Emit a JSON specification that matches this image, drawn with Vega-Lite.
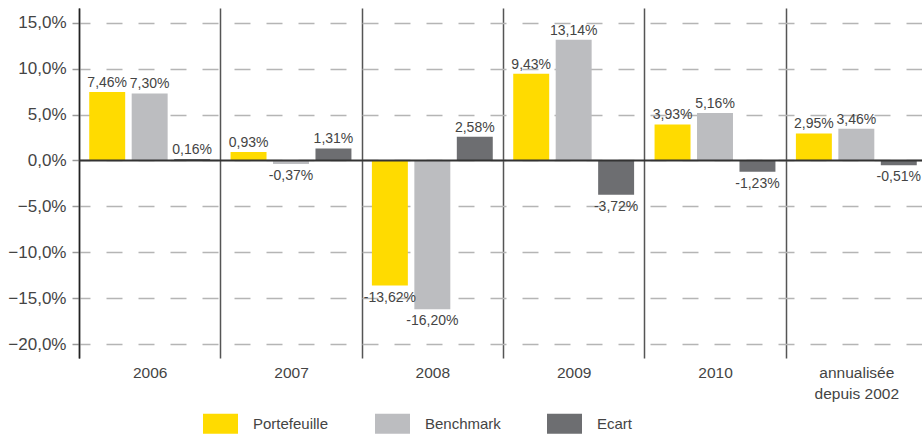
{
  "$schema": "https://vega.github.io/schema/vega-lite/v6.json",
  "width": 843,
  "height": 350,
  "autosize": {"type": "none"},
  "padding": {"left": 79, "top": 8, "right": 0, "bottom": 77},
  "background": "white",
  "config": {"view": {"stroke": null}, "font": "Liberation Sans"},
  "data": {
    "values": [
      {"period": "2006", "serie": "Portefeuille", "value": 7.46, "label": "7,46%"},
      {"period": "2006", "serie": "Benchmark", "value": 7.30, "label": "7,30%"},
      {"period": "2006", "serie": "Ecart", "value": 0.16, "label": "0,16%"},
      {"period": "2007", "serie": "Portefeuille", "value": 0.93, "label": "0,93%"},
      {"period": "2007", "serie": "Benchmark", "value": -0.37, "label": "-0,37%"},
      {"period": "2007", "serie": "Ecart", "value": 1.31, "label": "1,31%"},
      {"period": "2008", "serie": "Portefeuille", "value": -13.62, "label": "-13,62%"},
      {"period": "2008", "serie": "Benchmark", "value": -16.20, "label": "-16,20%"},
      {"period": "2008", "serie": "Ecart", "value": 2.58, "label": "2,58%"},
      {"period": "2009", "serie": "Portefeuille", "value": 9.43, "label": "9,43%"},
      {"period": "2009", "serie": "Benchmark", "value": 13.14, "label": "13,14%"},
      {"period": "2009", "serie": "Ecart", "value": -3.72, "label": "-3,72%"},
      {"period": "2010", "serie": "Portefeuille", "value": 3.93, "label": "3,93%"},
      {"period": "2010", "serie": "Benchmark", "value": 5.16, "label": "5,16%"},
      {"period": "2010", "serie": "Ecart", "value": -1.23, "label": "-1,23%"},
      {"period": "annualisée depuis 2002", "serie": "Portefeuille", "value": 2.95, "label": "2,95%"},
      {"period": "annualisée depuis 2002", "serie": "Benchmark", "value": 3.46, "label": "3,46%"},
      {"period": "annualisée depuis 2002", "serie": "Ecart", "value": -0.51, "label": "-0,51%"}
    ]
  },
  "encoding": {
    "x": {
      "field": "period",
      "type": "nominal",
      "sort": ["2006", "2007", "2008", "2009", "2010", "annualisée depuis 2002"],
      "scale": {"paddingInner": 0, "paddingOuter": 0, "range": [0, 848]},
      "axis": {
        "title": null,
        "orient": "bottom",
        "labelAngle": 0,
        "domain": false,
        "ticks": false,
        "tickBand": "extent",
        "grid": true,
        "gridColor": "#555555",
        "gridWidth": 1.5,
        "labelFont": "Liberation Sans",
        "labelFontSize": 15.5,
        "labelColor": "#444444",
        "labelPadding": 7,
        "labelLineHeight": 21,
        "labelExpr": "datum.value == 'annualisée depuis 2002' ? ['annualisée', 'depuis 2002'] : datum.label"
      }
    },
    "xOffset": {
      "field": "serie",
      "type": "nominal",
      "sort": ["Portefeuille", "Benchmark", "Ecart"],
      "scale": {"paddingInner": 0.153, "paddingOuter": 0.241}
    },
    "y": {
      "field": "value",
      "type": "quantitative",
      "scale": {"domain": [-21.5, 16.6], "nice": false, "zero": false},
      "axis": {
        "title": null,
        "values": [-20, -15, -10, -5, 0, 5, 10, 15],
        "labelExpr": "replace(format(datum.value, '.1f'), '.', ',') + '%'",
        "grid": true,
        "gridDash": [16, 16],
        "gridDashOffset": 5,
        "gridColor": "#b5b5b5",
        "gridWidth": 1.5,
        "tickColor": "#999999",
        "tickSize": 7,
        "tickWidth": 1.5,
        "domainColor": "#222222",
        "domainWidth": 1.5,
        "labelFont": "Liberation Sans",
        "labelFontSize": 17,
        "labelColor": "#444444",
        "labelPadding": 6
      }
    }
  },
  "layer": [
    {
      "mark": {"type": "bar"},
      "encoding": {
        "color": {
          "field": "serie",
          "type": "nominal",
          "sort": ["Portefeuille", "Benchmark", "Ecart"],
          "scale": {"domain": ["Portefeuille", "Benchmark", "Ecart"], "range": ["#FFDB00", "#BCBDC0", "#6D6E71"]},
          "legend": {
            "title": null,
            "orient": "none",
            "legendX": 124,
            "legendY": 398,
            "direction": "horizontal",
            "columns": 3,
            "gridAlign": "all",
            "columnPadding": 46,
            "symbolType": "M-1,-0.57H1V0.57H-1Z",
            "symbolSize": 1225,
            "symbolStrokeWidth": 0,
            "symbolOpacity": 1,
            "labelOffset": 15,
            "labelFont": "Liberation Sans",
            "labelFontSize": 15,
            "labelColor": "#444444"
          }
        }
      }
    },
    {
      "transform": [{"filter": "datum.value >= 0"}],
      "mark": {"type": "text", "baseline": "alphabetic", "dy": -5, "fontSize": 14, "color": "#444444", "font": "Liberation Sans"},
      "encoding": {"text": {"field": "label"}}
    },
    {
      "transform": [{"filter": "datum.value < 0"}],
      "mark": {"type": "text", "baseline": "top", "dy": 5, "fontSize": 14, "color": "#444444", "font": "Liberation Sans"},
      "encoding": {"text": {"field": "label"}}
    },
    {
      "data": {"values": [{"zero": 0}]},
      "mark": {"type": "rule", "color": "#333333", "strokeWidth": 2},
      "encoding": {"y": {"field": "zero", "type": "quantitative"}, "x": null, "xOffset": null}
    }
  ]
}
